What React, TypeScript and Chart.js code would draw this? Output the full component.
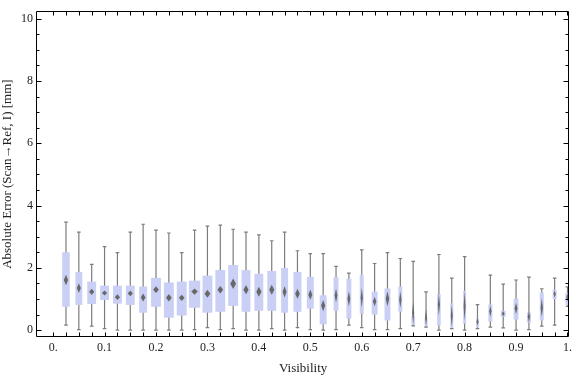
import React, { useEffect, useRef } from "react";
import { Chart, registerables } from "chart.js";
Chart.register(...registerables);

// ---- Data ----
const visibility = [
  0.025, 0.05, 0.075, 0.1, 0.125, 0.15, 0.175, 0.2, 0.225, 0.25,
  0.275, 0.3, 0.325, 0.35, 0.375, 0.4, 0.425, 0.45, 0.475, 0.5,
  0.525, 0.55, 0.575, 0.6, 0.625, 0.65, 0.675, 0.7, 0.725, 0.75,
  0.775, 0.8, 0.825, 0.85, 0.875, 0.9, 0.925, 0.95, 0.975, 1.0,
];
const whiskerLow = [
  0.16, 0.02, 0.13, 0.05, 0.0, 0.0, 0.0, 0.0, 0.0, 0.0,
  0.02, 0.08, 0.02, 0.05, 0.0, 0.0, 0.05, 0.0, 0.08, 0.02,
  0.0, 0.02, 0.16, 0.08, 0.02, 0.02, 0.05, 0.14, 0.1, 0.0,
  0.05, 0.0, 0.05, 0.1, 0.07, 0.0, 0.02, 0.13, 0.16, 0.76,
];
const q1 = [
  0.75, 0.81, 0.84, 0.97, 0.85, 0.81, 0.56, 0.75, 0.4, 0.47,
  0.72, 0.56, 0.59, 0.78, 0.59, 0.62, 0.62, 0.56, 0.59, 0.69,
  0.19, 0.62, 0.37, 0.53, 0.5, 0.31, 0.59, 0.18, 0.14, 0.15,
  0.07, 0.21, 0.09, 0.28, 0.43, 0.34, 0.25, 0.31, 1.0, 0.8,
];
const meanValue = [
  1.61, 1.35, 1.23, 1.19, 1.06, 1.18, 1.05, 1.3, 1.04, 1.04,
  1.24, 1.17, 1.3, 1.49, 1.3, 1.23, 1.3, 1.23, 1.17, 1.14,
  0.79, 1.11, 1.01, 1.04, 0.92, 1.01, 0.98, 0.56, 0.4, 0.82,
  0.46, 0.77, 0.27, 0.61, 0.53, 0.7, 0.43, 0.72, 1.16, 1.06,
];
const q3 = [
  2.5, 1.87, 1.56, 1.43, 1.43, 1.43, 1.4, 1.68, 1.53, 1.56,
  1.59, 1.75, 1.93, 2.09, 1.93, 1.81, 1.9, 2.0, 1.87, 1.71,
  1.12, 1.71, 1.65, 1.78, 1.24, 1.34, 1.4, 0.45, 0.39, 1.15,
  0.86, 1.26, 0.37, 0.82, 0.62, 1.01, 0.56, 1.21, 1.3, 1.19,
];
const whiskerHigh = [
  3.47, 3.15, 2.11, 2.68, 2.49, 3.15, 3.4, 3.21, 3.12, 2.49,
  3.21, 3.34, 3.37, 3.24, 3.15, 3.06, 2.87, 3.15, 2.55, 2.46,
  2.46, 2.05, 1.83, 2.58, 2.14, 2.49, 2.3, 2.21, 1.23, 2.43,
  1.67, 2.36, 0.82, 1.77, 1.48, 1.61, 1.7, 1.33, 1.67, 1.39,
];
// half-height of the mean confidence diamond
const meanCI = [
  0.17, 0.16, 0.1, 0.08, 0.09, 0.09, 0.13, 0.11, 0.12, 0.1,
  0.1, 0.13, 0.12, 0.17, 0.15, 0.16, 0.16, 0.18, 0.16, 0.16,
  0.18, 0.22, 0.24, 0.31, 0.15, 0.24, 0.27, 0.36, 0.26, 0.36,
  0.36, 0.47, 0.13, 0.18, 0.08, 0.18, 0.18, 0.31, 0.11, 0.13,
];
// relative box width (fraction of bin spacing)
const boxRelWidth = [
  0.59, 0.54, 0.69, 0.69, 0.69, 0.69, 0.62, 0.77, 0.77, 0.77,
  0.88, 0.77, 0.77, 0.77, 0.69, 0.69, 0.69, 0.54, 0.62, 0.54,
  0.54, 0.38, 0.38, 0.31, 0.46, 0.46, 0.31, 0.28, 0.23, 0.28,
  0.23, 0.23, 0.23, 0.31, 0.38, 0.38, 0.31, 0.31, 0.31, 0.31,
];

const xTickValues = [0, 0.1, 0.2, 0.3, 0.4, 0.5, 0.6, 0.7, 0.8, 0.9, 1.0];
const xTickLabels = ["0.", "0.1", "0.2", "0.3", "0.4", "0.5", "0.6", "0.7", "0.8", "0.9", "1."];
const yTickValues = [0, 2, 4, 6, 8, 10];
const yTickLabels = ["0", "2", "4", "6", "8", "10"];
const xMinorStep = 0.025;
const yMinorStep = 0.5;

const X_TITLE = "Visibility";
const Y_TITLE = "Absolute Error (Scan\u2192Ref, I) [mm]";

const FONT = "'Liberation Serif', 'Times New Roman', serif";
const TEXT_COLOR = "#222222";
const BOX_COLOR = "#cad0f5";
const WHISKER_COLOR = "#7c7c7c";
const DIAMOND_COLOR = "#686868";

const boxPlugin = {
  id: "boxWhisker",
  beforeDatasetsDraw(chart: any) {
    const { ctx, chartArea } = chart;
    const x = chart.scales.x;
    const y = chart.scales.y;
    const step = x.getPixelForValue(xMinorStep) - x.getPixelForValue(0);
    ctx.save();
    ctx.beginPath();
    ctx.rect(chartArea.left, chartArea.top, chartArea.right - chartArea.left, chartArea.bottom - chartArea.top);
    ctx.clip();
    for (let i = 0; i < visibility.length; i++) {
      const cx = x.getPixelForValue(visibility[i]);
      const w = boxRelWidth[i] * step;
      const yLo = y.getPixelForValue(whiskerLow[i]);
      const yHi = y.getPixelForValue(whiskerHigh[i]);
      // whisker
      ctx.strokeStyle = WHISKER_COLOR;
      ctx.lineWidth = 1.2;
      ctx.beginPath();
      ctx.moveTo(cx, yLo);
      ctx.lineTo(cx, yHi);
      ctx.moveTo(cx - 1.8, yLo);
      ctx.lineTo(cx + 1.8, yLo);
      ctx.moveTo(cx - 1.8, yHi);
      ctx.lineTo(cx + 1.8, yHi);
      ctx.stroke();
      // box
      const yq3 = y.getPixelForValue(q3[i]);
      const yq1 = y.getPixelForValue(q1[i]);
      ctx.fillStyle = BOX_COLOR;
      ctx.fillRect(cx - w / 2, yq3, w, yq1 - yq3);
      // mean diamond
      const ym = y.getPixelForValue(meanValue[i]);
      const yt = y.getPixelForValue(meanValue[i] + meanCI[i]);
      const yb = y.getPixelForValue(meanValue[i] - meanCI[i]);
      const dw = Math.max(2, w * 0.58) / 2;
      ctx.fillStyle = DIAMOND_COLOR;
      ctx.filter = "blur(0.4px)";
      ctx.beginPath();
      ctx.moveTo(cx, yt);
      ctx.lineTo(cx + dw, ym);
      ctx.lineTo(cx, yb);
      ctx.lineTo(cx - dw, ym);
      ctx.closePath();
      ctx.fill();
      ctx.filter = "none";
    }
    ctx.restore();
  },
  afterDraw(chart: any) {
    const { ctx, chartArea } = chart;
    const x = chart.scales.x;
    const y = chart.scales.y;
    const L = Math.round(chartArea.left) - 0.5;
    const R = Math.round(chartArea.right) - 0.5;
    const T = Math.round(chartArea.top) + 0.5;
    const B = Math.round(chartArea.bottom) - 0.5;
    ctx.save();
    ctx.strokeStyle = "#000000";
    ctx.lineWidth = 1;
    ctx.beginPath();
    ctx.rect(L, T, R - L, B - T);
    ctx.stroke();
    ctx.beginPath();
    // x ticks (bottom and top), inward
    for (let k = 0; k <= 40; k++) {
      const v = k * xMinorStep;
      const px = Math.round(x.getPixelForValue(v)) + 0.5;
      ctx.moveTo(px, B);
      ctx.lineTo(px, B - 4);
      ctx.moveTo(px, T);
      ctx.lineTo(px, T + 4);
    }
    // y ticks (left and right), inward
    for (let k = 0; k <= 20; k++) {
      const v = k * yMinorStep;
      const py = Math.round(y.getPixelForValue(v)) + 0.5;
      const len = k % 4 === 0 ? 5 : 3;
      ctx.moveTo(L, py);
      ctx.lineTo(L + len, py);
      ctx.moveTo(R, py);
      ctx.lineTo(R - len, py);
    }
    ctx.stroke();
    ctx.restore();
  },
};

export default function App() {
  const ref = useRef<HTMLCanvasElement | null>(null);
  useEffect(() => {
    document.body.style.margin = "0";
    const canvas = ref.current;
    if (!canvas) return;
    const chart = new Chart(canvas, {
      type: "scatter",
      data: {
        datasets: [
          {
            data: visibility.map((v, i) => ({ x: v, y: meanValue[i] })),
            pointRadius: 0,
            showLine: false,
          },
        ],
      },
      options: {
        animation: false,
        responsive: false,
        devicePixelRatio: 1,
        layout: { padding: { top: 4, right: 1, left: 0, bottom: 0 } },
        plugins: { legend: { display: false }, tooltip: { enabled: false } },
        scales: {
          x: {
            type: "linear",
            min: -0.03135,
            max: 1.00327,
            afterFit: (s: any) => {
              s.height = 40;
            },
            afterBuildTicks: (s: any) => {
              s.ticks = xTickValues.map((v) => ({ value: v }));
            },
            grid: { display: false, drawTicks: false },
            border: { display: false },
            ticks: {
              autoSkip: false,
              maxRotation: 0,
              padding: 4,
              color: TEXT_COLOR,
              font: { family: FONT, size: 12 },
              callback: (value: any) => {
                const idx = xTickValues.findIndex((t) => Math.abs(t - Number(value)) < 1e-9);
                return idx >= 0 ? xTickLabels[idx] : "";
              },
            },
            title: {
              display: true,
              text: X_TITLE,
              color: TEXT_COLOR,
              font: { family: FONT, size: 13 },
              padding: { top: 0, bottom: 1 },
            },
          },
          y: {
            type: "linear",
            min: -0.22,
            max: 10.242,
            afterFit: (s: any) => {
              s.width = 37;
            },
            afterBuildTicks: (s: any) => {
              s.ticks = yTickValues.map((v) => ({ value: v }));
            },
            grid: { display: false, drawTicks: false },
            border: { display: false },
            ticks: {
              autoSkip: false,
              padding: 4,
              color: TEXT_COLOR,
              font: { family: FONT, size: 12 },
              callback: (value: any) => {
                const idx = yTickValues.findIndex((t) => Math.abs(t - Number(value)) < 1e-9);
                return idx >= 0 ? yTickLabels[idx] : "";
              },
            },
            title: {
              display: true,
              text: Y_TITLE,
              color: TEXT_COLOR,
              font: { family: FONT, size: 13 },
              padding: { top: 0, bottom: 0 },
            },
          },
        },
      },
      plugins: [boxPlugin],
    } as any);
    return () => chart.destroy();
  }, []);
  return (
    <div style={{ width: 576, height: 377 }}>
      <canvas ref={ref} width={576} height={377} style={{ display: "block", width: 576, height: 377 }} />
    </div>
  );
}
